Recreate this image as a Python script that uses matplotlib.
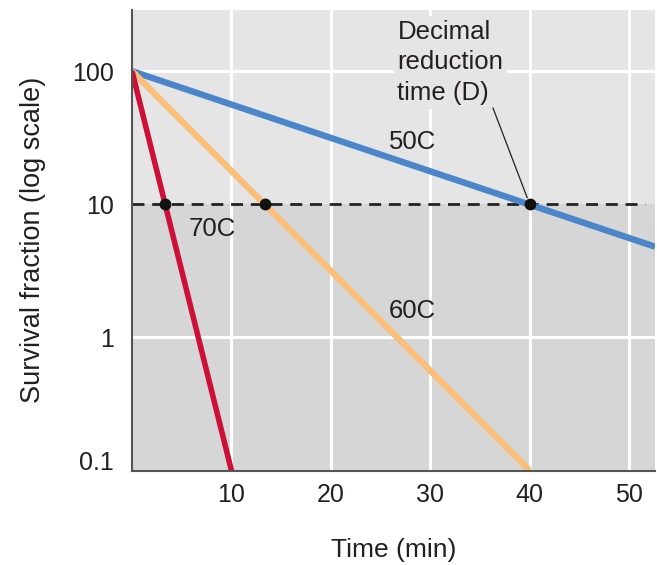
import matplotlib
matplotlib.use("Agg")
import matplotlib.pyplot as plt

# ---- data ----
time_70 = [0, 10]
surv_70 = [100, 0.1]
time_60 = [0, 40]
surv_60 = [100, 0.1]
time_50 = [0, 52.6]
surv_50 = [100, 4.8]
d_times = [3.33, 13.33, 40]
d_level = 10
x_ticks = [10, 20, 30, 40, 50]
y_ticks = [0.1, 1, 10, 100]
y_tick_labels = ["0.1", "1", "10", "100"]

TXT = "#231f20"
plt.rcParams['font.family'] = ['Liberation Sans', 'DejaVu Sans']

fig = plt.figure(figsize=(6.57, 5.65), dpi=100)
ax = fig.add_axes([132/657, 1-470.5/565, (655-132)/657, (470.5-10)/565])
ax.set_yscale('log')
ax.set_xlim(0, 52.6)
ax.set_ylim(0.1, 288)

# backgrounds
ax.axhspan(10, 288, color="#e6e5e6", zorder=0, lw=0)
ax.axhspan(0.1, 10, color="#d7d6d6", zorder=0, lw=0)

# grid
for x in x_ticks:
    ax.axvline(x, color="white", lw=2.2, zorder=1)
for y in [1, 100]:
    ax.axhline(y, color="white", lw=2.2, zorder=1)

# dashed D level
ax.axhline(d_level, xmax=0.98, color="#222222", lw=2, ls=(0, (4.3, 2.8)), zorder=2)

ax.plot(time_50, surv_50, color="#4a86c9", lw=4.6, solid_capstyle='butt', zorder=3)
ax.plot(time_60, surv_60, color="#fbbf7c", lw=4.6, solid_capstyle='butt', zorder=3)
ax.plot(time_70, surv_70, color="#cc1038", lw=4.0, solid_capstyle='butt', zorder=3)
ax.plot(d_times, [d_level]*len(d_times), 'o', color="#111111", ms=7.5, zorder=4, clip_on=False)

# labels
FS = 18.5
ax.text(28.2, 29.2, "50C", fontsize=FS, color=TXT, ha='center', va='center', zorder=5)
ax.text(8.1, 6.52, "70C", fontsize=FS, color=TXT, ha='center', va='center', zorder=5)
ax.text(28.2, 1.58, "60C", fontsize=FS, color=TXT, ha='center', va='center', zorder=5)
ax.text(26.7, 243, "Decimal\nreduction\ntime (D)", fontsize=FS, color=TXT,
        ha='left', va='top', linespacing=1.35, zorder=5,
        bbox=dict(boxstyle='square,pad=0.15', fc="#e6e5e6", ec='none'))
ax.annotate("", xy=(d_times[2], d_level), xytext=(36.3, 53),
            arrowprops=dict(arrowstyle='-', lw=0.9, color="#222222", shrinkA=0, shrinkB=5),
            zorder=5)

# axes styling
for s in ['top', 'right']:
    ax.spines[s].set_visible(False)
for s in ['left', 'bottom']:
    ax.spines[s].set_color("#555555")
    ax.spines[s].set_linewidth(1.5)
    ax.spines[s].set_zorder(6)

ax.set_xticks(x_ticks)
ax.set_xticklabels([str(x) for x in x_ticks])
ax.set_yticks(y_ticks)
ax.set_yticklabels(y_tick_labels)
ax.minorticks_off()
ax.tick_params(axis='both', length=0, labelsize=18, labelcolor=TXT)
ax.tick_params(axis='y', pad=13)
ax.tick_params(axis='x', pad=9)
ax.yaxis.get_major_ticks()[0].label1.set_verticalalignment('baseline')

ax.set_xlabel("Time (min)", fontsize=19, color=TXT, labelpad=22)
ax.set_ylabel("Survival fraction (log scale)", fontsize=19.5, color=TXT, labelpad=19)

fig.savefig("out.png", dpi=100)
